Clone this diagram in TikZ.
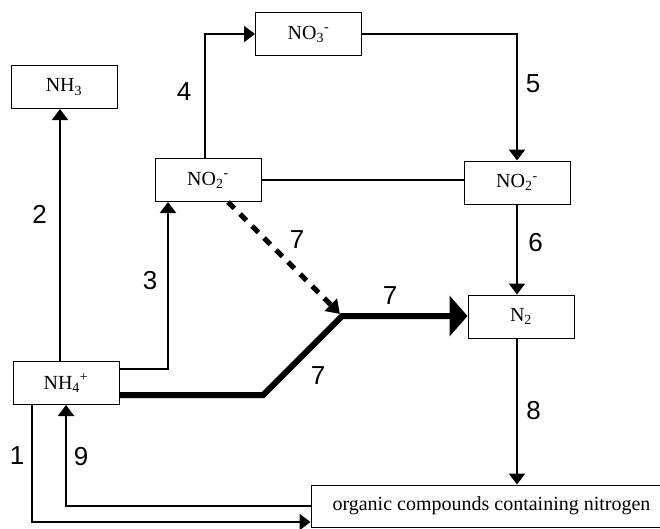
\documentclass[tikz,border=0pt]{standalone}
\usepackage{fontspec}
\setmainfont{Liberation Serif}
\newfontfamily\numfont{Liberation Sans}
\usetikzlibrary{arrows.meta,calc,positioning}
\tikzset{
  box/.style     = {draw, line width=1pt, fill=white, minimum width=106pt, minimum height=43pt,
                    inner sep=0pt, font=\fontsize{20}{23}\selectfont},
  wire/.style    = {line width=2.2pt},
  arr/.style     = {wire, -{Triangle[length=11pt,width=16pt]}},
  bigarr/.style  = {line width=6pt, -{Triangle[length=18pt,width=40pt]}},
  dasharr/.style = {line width=5pt, dash pattern=on 9pt off 8pt, -{Triangle[length=13pt,width=17pt]}},
  num/.style     = {font=\numfont\fontsize{26}{30}\selectfont, inner sep=0pt},
}
\begin{document}
\begin{tikzpicture}[x=1pt,y=-1pt]
  \useasboundingbox (0,0) rectangle (660,528);
  % species
  \node[box] (nh3)  at (64,87)      {NH\textsubscript{3}};
  \node[box] (no3)  at (308.5,34)   {NO\textsubscript{3}\textsuperscript{-}};
  \node[box] (no2a) at (208,180)    {NO\textsubscript{2}\textsuperscript{-}};
  \node[box] (no2b) at (517,182.5)  {NO\textsubscript{2}\textsuperscript{-}};
  \node[box] (n2)   at (521,316.5)  {N\textsubscript{2}};
  \node[box] (nh4)  at (66,383)     {NH\textsubscript{4}\textsuperscript{+}};
  \node[box, minimum width=361pt, minimum height=42pt] (org) at (491.5,506)
    {organic compounds containing nitrogen};
  \coordinate (bend) at (263,395);
  \coordinate (jn)   at (342,316);
  % reactions
  \draw[arr] ([xshift=-6pt]nh4.north) -- ([xshift=-4pt]nh3.south);
  \draw[arr] ([yshift=14pt]nh4.east) -| ([xshift=-40pt]no2a.south);
  \draw[arr] ([xshift=-3pt]no2a.north) |- (no3.west);
  \draw[arr] (no3.east) -| (no2b.north);
  \draw[wire] (no2a.east) -- (no2a.east -| no2b.west);
  \draw[arr] (no2b.south) -- (no2b.south |- n2.north);
  \draw[arr] (no2b.south |- n2.south) -- (no2b.south |- org.north);
  \draw[arr] ([xshift=-34pt]nh4.south) |- ([yshift=-16pt]org.west);
  \draw[arr] (org.west) -| (nh4.south);
  \draw[bigarr] ([yshift=-12pt]nh4.east) -- (bend) -- (jn) -- (jn -| n2.west);
  \draw[dasharr, shorten >=3pt] ([xshift=20pt]no2a.south) -- (jn);
  % numbers
  \node[num] (l1)  at (17,456)  {1};
  \node[num] (l2)  at (39.5,214) {2};
  \node[num] (l3)  at (150,281) {3};
  \node[num] (l4)  at (184,92)  {4};
  \node[num] (l5)  at (533,84)  {5};
  \node[num] (l6)  at (535.5,243) {6};
  \node[num] (l7a) at (297,240) {7};
  \node[num] (l7b) at (390,296) {7};
  \node[num] (l7c) at (318,376) {7};
  \node[num] (l8)  at (533.5,411) {8};
  \node[num] (l9)  at (81,457)  {9};
\end{tikzpicture}
\end{document}
